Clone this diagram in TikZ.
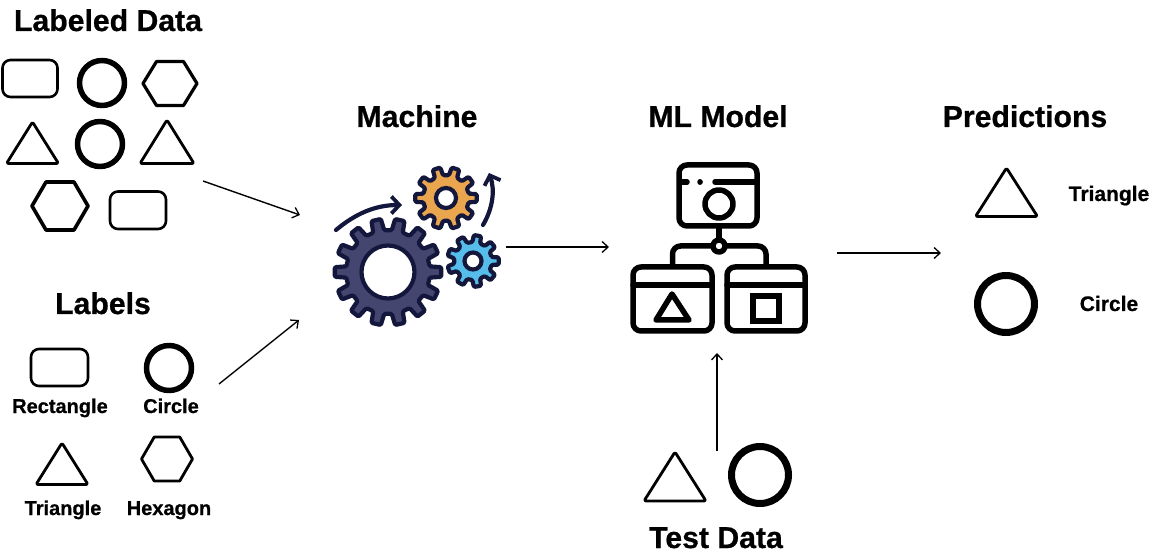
\documentclass[tikz,border=0pt]{standalone}
\usepackage{fontspec}
\setmainfont{Liberation Sans}[BoldFeatures={FakeBold=0.7}]
\usetikzlibrary{arrows.meta}
\definecolor{gearink}{HTML}{14173C}
\definecolor{gearbig}{HTML}{45466F}
\definecolor{gearorange}{HTML}{E9A64E}
\definecolor{gearblue}{HTML}{56BDEA}
\newcommand{\gearicon}[7]{% cx cy R r n fill hole
  \begin{scope}[shift={(#1,#2)}]
    \pgfmathsetmacro{\gs}{360/#5}
    \draw[gearline,fill=#6] ({-0.3*\gs}:#4)
      \foreach \gi in {1,...,#5} {
        -- ({(\gi-1)*\gs-0.3*\gs}:#4) -- ({(\gi-1)*\gs-0.2*\gs}:#3) -- ({(\gi-1)*\gs+0.2*\gs}:#3) -- ({(\gi-1)*\gs+0.3*\gs}:#4)
      } -- cycle;
    \draw[gearline,fill=white] (0,0) circle[radius=#7];
  \end{scope}}
\newcommand{\hexicon}[5]{% cx cy halfwidth halfheight width
  \draw[outline,line width=#5] (#1-#3,#2) -- (#1-#3/2,#2-#4) -- (#1+#3/2,#2-#4) -- (#1+#3,#2) -- (#1+#3/2,#2+#4) -- (#1-#3/2,#2+#4) -- cycle;}
\newcommand{\triicon}[5]{% apexx apexy halfwidth basey width
  \draw[outline,line width=#5,rounded corners=2pt] (#1,#2) -- (#1+#3,#4) -- (#1-#3,#4) -- cycle;}
\tikzset{
  outline/.style={draw=black,line join=round,fill=none},
  roundbox/.style={outline,line width=2.6pt,rounded corners=8pt},
  ringicon/.style={outline,line width=5.5pt},
  flowarrow/.style={draw=black,line width=1.4pt,-{Straight Barb[length=6pt,width=11pt,line width=1.3pt]}},
  heading/.style={font=\bfseries\fontsize{30.2}{32}\selectfont,inner sep=0pt,anchor=base},
  sublabel/.style={font=\bfseries\fontsize{20}{22}\selectfont,inner sep=0pt,anchor=base},
  predlabel/.style={font=\bfseries\fontsize{21}{23}\selectfont,inner sep=0pt,anchor=base},
  gearline/.style={draw=gearink,line width=4.2pt,line join=round,rounded corners=1.2pt},
  gearflow/.style={draw=gearink,line width=4.2pt,line cap=round,-{Straight Barb[length=8pt,width=17pt,line width=3.8pt]}},
  iconline/.style={draw=black,line width=5.5pt,line cap=round,line join=round,fill=none},
}
\begin{document}
\begin{tikzpicture}[x=1pt,y=-1pt]
\useasboundingbox (0,0) rectangle (1157,553);
% headings
\node[heading] (hLabeled) at (108,31) {Labeled Data};
\node[heading] (hLabels) at (103,314) {Labels};
\node[heading] (hMachine) at (417,127) {Machine};
\node[heading] (hModel) at (718,127) {ML Model};
\node[heading] (hPred) at (1025,127) {Predictions};
\node[heading] (hTest) at (716,548) {Test Data};
% labeled data
\draw[roundbox] (2.5,60) rectangle (57.5,97);
\draw[ringicon] (102,83) circle[radius=22.5];
\hexicon{170}{83.5}{27}{22}{3.2pt}
\triicon{32.5}{122}{26}{163.5}{2.8pt}
\draw[ringicon] (100,144) circle[radius=22.5];
\triicon{167}{120}{27}{163.5}{2.8pt}
\hexicon{60}{206}{28}{24}{3.6pt}
\draw[roundbox] (110,191.5) rectangle (166,229);
% labels
\draw[roundbox] (31,349) rectangle (88,386);
\draw[ringicon] (169,368) circle[radius=22.5];
\node[sublabel] (lRect) at (60,413) {Rectangle};
\node[sublabel] (lCirc) at (171,413) {Circle};
\triicon{62}{443}{26}{484.5}{2.8pt}
\hexicon{167}{459}{25.5}{22}{2.8pt}
\node[sublabel] (lTri) at (63,515) {Triangle};
\node[sublabel] (lHex) at (169,515) {Hexagon};
% gears
\gearicon{388}{272}{53.5}{42}{14}{gearbig}{26.5}
\gearicon{446}{198}{31}{23}{10}{gearorange}{10}
\gearicon{473}{261}{26}{19}{9}{gearblue}{8.5}
\coordinate (gA1) at (336,230);
\coordinate (gA2) at (402,205);
\coordinate (gB1) at (483,225);
\coordinate (gB2) at (489,173);
\draw[gearflow] (gA1) .. controls (355,214) and (375,205) .. (gA2);
\draw[gearflow] (gB1) .. controls (493,208) and (495,190) .. (gB2);
% ML model icon
\draw[iconline,rounded corners=8pt] (679,165) rectangle (757,226);
\draw[iconline] (682,182) -- (687,182);
\draw[iconline] (700,182) -- (700.1,182);
\draw[iconline] (715,182) -- (755,182);
\draw[iconline] (719,204) circle[radius=14];
\draw[iconline] (719,228) -- (719,240);
\draw[iconline] (719,246) circle[radius=6];
\draw[iconline,rounded corners=8pt] (672.5,265) -- (672.5,246) -- (713,246);
\draw[iconline,rounded corners=8pt] (766,265) -- (766,246) -- (725,246);
\draw[iconline,rounded corners=8pt] (633,267) rectangle (712,331);
\draw[iconline] (633,285) -- (712,285);
\draw[iconline,line join=round] (672,294) -- (689,320) -- (656,320) -- cycle;
\draw[iconline,rounded corners=8pt] (727,267) rectangle (805,331);
\draw[iconline] (727,285) -- (805,285);
\draw[iconline,line cap=butt,line join=miter] (753,296) rectangle (779,321);
% predictions
\triicon{1006.5}{168}{31}{216.5}{2.8pt}
\node[predlabel] (pTri) at (1109,201) {Triangle};
\draw[outline,line width=7pt] (1006,304) circle[radius=28.5];
\node[predlabel] (pCirc) at (1109,311) {Circle};
% test data
\triicon{675}{452}{31}{501}{2.8pt}
\draw[outline,line width=7pt] (760,475) circle[radius=28.5];
% connectors
\coordinate (a1s) at (203,181);
\coordinate (a1e) at (300,215);
\coordinate (a2s) at (219,384);
\coordinate (a2e) at (299,320);
\coordinate (a3s) at (506,247);
\coordinate (a3e) at (609,247);
\coordinate (a4s) at (837,253);
\coordinate (a4e) at (941,253);
\coordinate (a5s) at (717,451);
\coordinate (a5e) at (717,353);
\draw[flowarrow] (a1s) -- (a1e);
\draw[flowarrow] (a2s) -- (a2e);
\draw[flowarrow] (a3s) -- (a3e);
\draw[flowarrow] (a4s) -- (a4e);
\draw[flowarrow] (a5s) -- (a5e);
\end{tikzpicture}
\end{document}
